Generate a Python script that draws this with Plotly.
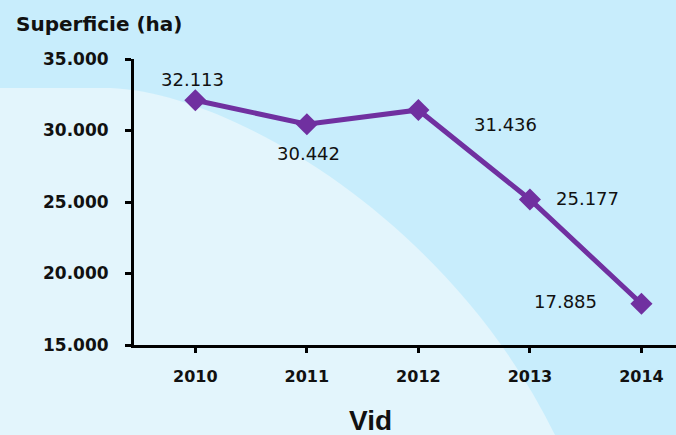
import plotly.graph_objects as go

# ---- data ----
years = ["2010", "2011", "2012", "2013", "2014"]
superficie = [32113, 30442, 31436, 25177, 17885]
y_ticks = [15000, 20000, 25000, 30000, 35000]
y_title = "Superficie (ha)"
x_title = "Vid"

# ---- style ----
W, H = 676, 435
L, R, T, B = 134, 0, 59, 90
PW, PH = W - L - R, H - T - B
PURPLE = "#7030a0"
BG_OUT = "#c8edfc"
BG_IN = "#e3f5fc"


def px(x):
    return (x - L) / PW


def py(y):
    return (H - B - y) / PH


label_offsets = [(-3, 21), (2, -29), (87, -15), (58, 1), (-76, 2)]

fmt = lambda v: f"{v:,}".replace(",", ".")

fig = go.Figure()
fig.add_trace(go.Scatter(
    x=years, y=superficie, mode="lines+markers",
    line=dict(color=PURPLE, width=5),
    marker=dict(symbol="diamond", size=17, color=PURPLE),
    hoverinfo="skip", showlegend=False,
))

annotations = []
for i, (v, (dx, dy)) in enumerate(zip(superficie, label_offsets)):
    annotations.append(dict(
        x=i, y=v, xref="x", yref="y", text=fmt(v), showarrow=False,
        xshift=dx, yshift=dy,
        font=dict(family="DejaVu Sans", size=18, color="#111111"),
    ))
annotations.append(dict(
    x=px(14), y=py(24), xref="paper", yref="paper", text=y_title,
    showarrow=False, xanchor="left", yanchor="middle",
    font=dict(family="DejaVu Sans", size=20, color="#111111", weight="bold"),
))
annotations.append(dict(
    x=px(370), y=py(420), xref="paper", yref="paper", text=x_title,
    showarrow=False, xanchor="center", yanchor="middle",
    font=dict(family="Liberation Sans", size=28, color="#111111", weight="bold"),
))

# background light arc
pts = [(0, 88), (110, 88), (230, 92), (450, 220), (555, 435), (0, 435)]
p = [(px(a), py(b)) for a, b in pts]
path = (f"M {p[0][0]},{p[0][1]} L {p[1][0]},{p[1][1]} "
        f"C {p[2][0]},{p[2][1]} {p[3][0]},{p[3][1]} {p[4][0]},{p[4][1]} "
        f"L {p[5][0]},{p[5][1]} Z")

fig.update_layout(
    width=W, height=H,
    margin=dict(l=L, r=R, t=T, b=B),
    paper_bgcolor=BG_OUT, plot_bgcolor="rgba(0,0,0,0)",
    separators=",.",
    annotations=annotations,
    shapes=[dict(type="path", path=path, xref="paper", yref="paper",
                 fillcolor=BG_IN, line=dict(width=0), layer="below")],
    xaxis=dict(
        type="category", range=[-0.55, 4.31],
        showline=True, linecolor="black", linewidth=3,
        ticks="outside", ticklen=5, tickwidth=3, tickcolor="black",
        showgrid=False, zeroline=False, ticklabelstandoff=10,
        tickfont=dict(family="DejaVu Sans", size=16, color="#111111", weight="bold"),
    ),
    yaxis=dict(
        range=[15000, 35000], tickvals=y_ticks,
        ticktext=[fmt(v) for v in y_ticks],
        showline=True, linecolor="black", linewidth=3,
        ticks="outside", ticklen=6, tickwidth=3, tickcolor="black",
        showgrid=False, zeroline=False, ticklabelstandoff=13,
        tickfont=dict(family="DejaVu Sans", size=17, color="#111111", weight="bold"),
    ),
)

fig.write_html("out.html", config={"displayModeBar": False},
               post_script="document.body.style.margin='0';document.body.style.padding='0';")
